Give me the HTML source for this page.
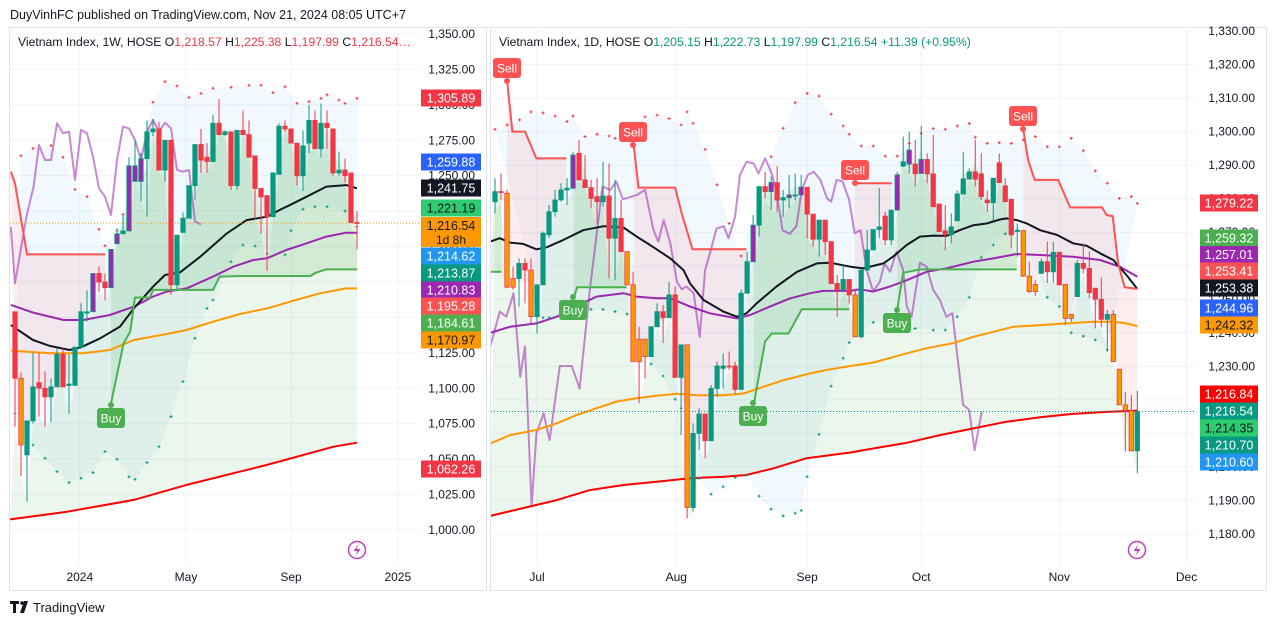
<!DOCTYPE html>
<html><head><meta charset="utf-8"><title>Vietnam Index chart</title>
<style>
html,body{margin:0;padding:0;background:#fff;}
svg{display:block;font-family:"Liberation Sans",Arial,sans-serif;}
</style></head>
<body>
<svg id="chart" width="1276" height="626" viewBox="0 0 1276 626" xmlns="http://www.w3.org/2000/svg">
<defs>
<clipPath id="clipL"><rect x="10" y="27" width="409" height="538"/></clipPath>
<clipPath id="clipR"><rect x="491" y="27" width="704" height="538"/></clipPath>
</defs>
<rect x="0" y="0" width="1276" height="626" fill="#fff"/>
<text x="10" y="19" font-size="12.5" fill="#131722">DuyVinhFC published on TradingView.com, Nov 21, 2024 08:05 UTC+7</text>
<rect x="9.5" y="27.5" width="477" height="563" fill="none" stroke="#e0e3eb"/>
<rect x="490.5" y="27.5" width="776" height="563" fill="none" stroke="#e0e3eb"/>
<g id="layer"></g>
<text x="18" y="46" font-size="12.2" fill="#131722">Vietnam Index, 1W, HOSE  O<tspan fill="#f23645">1,218.57</tspan>  H<tspan fill="#f23645">1,225.38</tspan>  L<tspan fill="#f23645">1,197.99</tspan>  C<tspan fill="#f23645">1,216.54…</tspan></text>
<text x="499" y="46" font-size="12.2" fill="#131722">Vietnam Index, 1D, HOSE  O<tspan fill="#089981">1,205.15</tspan>  H<tspan fill="#089981">1,222.73</tspan>  L<tspan fill="#089981">1,197.99</tspan>  C<tspan fill="#089981">1,216.54</tspan>  <tspan fill="#089981">+11.39 (+0.95%)</tspan></text>
<g>
<path d="M10 601 h9 v3 h-3 v9 h-3 v-9 h-3 z" fill="#131722"/>
<circle cx="22" cy="603" r="1.8" fill="#131722"/>
<path d="M24 601 h4 l-4 12 h-4 z" fill="#131722"/>
<text x="33" y="612" font-size="13" fill="#131722">TradingView</text>
</g>
</svg>
<script>
// ---------- LEFT (weekly) DATA ----------
const lOpen=[1154,1107,1053,1077,1104,1100,1094,1101,1124,1102,1102,1129,1153,1154,1181,1175,1171,1202,1209,1211,1246,1246,1262,1281,1283,1254,1275,1173,1210,1220,1243,1272,1263,1260,1287,1279,1281,1243,1282,1279,1264,1241,1236,1221,1251,1285,1283,1273,1250,1273,1289,1269,1287,1283,1252,1254,1252,1217];
const lHigh=[1154,1111,1077,1125,1125,1112,1107,1128,1128,1124,1129,1160,1169,1181,1186,1181,1198,1213,1223,1263,1275,1266,1289,1290,1288,1275,1275,1208,1224,1243,1272,1283,1273,1293,1304,1282,1281,1282,1296,1289,1264,1241,1236,1252,1287,1289,1283,1273,1282,1300,1296,1301,1296,1283,1267,1262,1252,1225];
const lLow=[1073,1038,1020,1075,1080,1073,1076,1101,1101,1082,1102,1129,1147,1154,1168,1162,1171,1202,1209,1211,1246,1232,1221,1278,1254,1246,1166,1169,1210,1220,1233,1252,1252,1260,1279,1278,1240,1240,1279,1263,1219,1209,1183,1221,1251,1281,1273,1243,1239,1266,1269,1263,1269,1250,1250,1245,1217,1198];
const lClose=[1107,1060,1077,1101,1100,1094,1101,1124,1101,1103,1129,1154,1154,1181,1175,1171,1198,1209,1211,1257,1257,1262,1281,1283,1254,1275,1173,1208,1220,1243,1272,1261,1260,1287,1279,1281,1243,1282,1279,1263,1241,1235,1221,1252,1285,1283,1273,1250,1271,1289,1269,1287,1284,1252,1254,1250,1217,1216.54];
const lVolUp=[13,16,17,19,20,21];
const lVolDown=[1,57];
const lBlackI=[-0.7,3.0,5.8,9.1,11.0,14.2,17.5,19.8,23.0,25.0,27.5,30.9,35.3,38.6,42.0,44.1,46.4,48.6,51.9,55.2,57.0];
const lBlackV=[1144.6,1134.1,1129.9,1127.0,1128.9,1135.3,1143.5,1156.4,1171.7,1179.9,1181.8,1192.9,1209.3,1218.7,1221.1,1225.8,1230.5,1235.2,1242.3,1243.4,1241.1];
const lPurpI=[-0.7,3.0,8.1,11.4,15.8,19.8,23.0,25.3,28.6,33.0,36.4,39.7,42.0,45.2,48.6,51.9,55.2,57.0];
const lPurpV=[1158.8,1153.4,1148.2,1148.2,1151.7,1157.6,1164.7,1168.2,1170.5,1178.8,1185.8,1190.5,1191.7,1197.6,1202.3,1207.0,1209.8,1209.8];
const lOrI=[-0.7,5.8,11.4,15.8,19.8,25.3,28.6,33.0,37.5,42.0,46.4,50.8,55.2,57.0];
const lOrV=[1126.6,1124.7,1124.7,1127.0,1134.1,1138.3,1141.1,1147.0,1152.4,1156.4,1161.8,1167.0,1170.5,1170.5];
const lRedI=[-0.8,8.7,19.8,28.6,42.0,53.1,57.0];
const lRedV=[1007.5,1012.9,1021.2,1031.8,1045.9,1058.8,1061.6];
const lGStepI=[16.0,18.1,19.2,20.0,22.5,23.0,33.0,34.1,37.5,49.2,50.2,51.9,57.0];
const lGStepV=[1089.4,1131.7,1140.0,1164.0,1164.0,1169.4,1169.4,1178.8,1179.2,1179.2,1181.6,1183.9,1183.9];
const lRStepI=[-0.7,0,2.0,15.0];
const lRStepV=[1252.9,1244.6,1194.5,1194.5];
const lOscI=[-0.7,0,1.9,3.1,4,5,6,7,8,9,10,11,12,13,14,15,16,17,18,19,20,21,22,23,24,25,26,27,28,29,30,31];
const lOscV=[1214.0,1174.1,1221.1,1242.3,1271.7,1261.1,1261.1,1287.0,1279.9,1281.1,1247.0,1282.3,1279.9,1263.4,1241.1,1235.2,1222.3,1261.1,1284.6,1283.4,1275.2,1261.1,1281.1,1289.3,1281.1,1287.4,1283.4,1254.0,1252.9,1254.0,1217.6,1215.7];
const lUpI=[1,3,6,8,10,12,14,15,17,18,23,25,27,29,31,33,36,39,41,43,45,47,49,51,52,54,55,57];
const lUpV=[1264.1,1269.3,1271.2,1263.0,1240.4,1235.2,1212.2,1200.6,1211.2,1222.7,1301.8,1316.4,1313.3,1305.3,1308.1,1311.7,1312.4,1313.8,1313.8,1308.6,1312.8,1301.1,1302.3,1304.6,1307.0,1303.4,1301.1,1304.6];
const lLoI=[0,3,5,7,9,11,13,15,17,19,20,22,24,26,28,30,32,33,36,38,40,42,45,46,48,50,52,55,57];
const lLoV=[1082.3,1060.0,1050.6,1041.2,1033.4,1036.5,1040.5,1055.3,1049.9,1037.6,1035.8,1047.5,1058.8,1080.0,1104.7,1135.3,1156.4,1162.3,1189.3,1201.1,1200.4,1194.8,1194.1,1211.2,1226.3,1228.1,1228.1,1225.1,1214.0];
const lTicks=[1350,1325,1300,1275,1250,1225,1200,1175,1150,1125,1100,1075,1050,1025,1000];
const lTimeLabels=['2024','May','Sep','2025'];
const lTimeIdx=[10.8,28.5,46,63.8];

// ---------- RIGHT (daily) DATA ----------
const rOpen=[1279.1,1282.1,1281.6,1256.2,1256.2,1260.7,1258.7,1244.8,1254.3,1269.2,1276.1,1279.6,1282.6,1283.1,1293.5,1285.6,1283.3,1280.6,1279.1,1280.8,1268.2,1274.1,1264.2,1254.3,1238.1,1238.1,1232.9,1241.8,1246.3,1244.5,1251.3,1226.7,1236.4,1187.9,1210.0,1215.8,1207.8,1223.4,1229.4,1230.1,1230.1,1223.1,1251.8,1261.2,1272.1,1283.6,1282.1,1284.8,1279.6,1280.3,1280.9,1281.1,1283.4,1275.4,1267.9,1273.6,1267.2,1254.7,1252.8,1255.9,1251.3,1238.8,1258.7,1264.7,1270.8,1274.8,1267.7,1276.6,1289.7,1290.3,1290.3,1287.5,1291.7,1287.4,1278.4,1270.4,1269.2,1273.4,1281.4,1285.9,1288.0,1287.4,1279.6,1278.8,1290.7,1283.8,1279.8,1270.2,1270.5,1256.9,1254.4,1257.7,1261.2,1258.2,1264.0,1254.4,1245.5,1250.8,1260.7,1259.2,1253.3,1250.0,1244.0,1245.5,1229.1,1218.5,1216.8,1204.8];
const rHigh=[1286.1,1287.5,1282.6,1259.7,1262.2,1262.2,1262.2,1254.3,1270.2,1278.1,1282.6,1284.6,1286.1,1294.0,1297.5,1293.0,1285.6,1286.1,1291.0,1290.5,1285.6,1279.6,1264.2,1258.2,1241.8,1238.1,1241.8,1248.8,1248.3,1255.2,1253.8,1236.4,1236.4,1213.0,1217.5,1215.8,1224.4,1231.4,1233.9,1234.4,1231.4,1252.9,1264.2,1275.1,1283.6,1288.0,1286.6,1289.7,1282.6,1287.1,1287.5,1287.1,1283.4,1275.4,1273.6,1273.6,1267.2,1257.2,1260.2,1256.0,1252.8,1258.7,1270.6,1270.8,1283.1,1276.1,1276.6,1288.0,1298.5,1300.0,1297.5,1301.7,1293.5,1299.0,1278.4,1278.1,1275.6,1282.4,1294.0,1289.0,1297.5,1293.5,1282.4,1286.1,1293.5,1286.1,1279.8,1272.6,1270.5,1261.2,1255.7,1262.2,1267.2,1267.2,1264.2,1254.4,1245.5,1261.7,1266.7,1264.2,1253.3,1256.5,1246.8,1246.8,1229.1,1222.4,1221.4,1222.7];
const rLow=[1275.6,1279.6,1253.3,1252.8,1247.8,1248.8,1242.8,1239.8,1254.3,1268.2,1274.6,1279.1,1278.1,1283.1,1285.6,1283.3,1277.1,1272.6,1277.6,1256.2,1255.7,1264.2,1254.3,1231.4,1219.0,1226.4,1232.9,1241.8,1236.9,1244.5,1226.7,1209.5,1184.7,1186.7,1205.0,1202.6,1207.8,1220.9,1223.4,1229.0,1221.9,1223.1,1251.8,1261.2,1268.7,1280.1,1276.6,1276.1,1274.6,1277.1,1279.6,1280.9,1268.2,1265.7,1262.7,1263.2,1254.7,1244.8,1252.8,1248.8,1238.8,1238.3,1258.7,1264.7,1268.2,1266.2,1266.2,1276.6,1289.5,1287.5,1283.6,1287.4,1284.6,1277.6,1270.2,1264.5,1266.7,1273.4,1281.4,1285.6,1283.6,1279.6,1276.1,1273.6,1284.8,1279.1,1265.2,1262.7,1256.7,1251.8,1251.0,1257.7,1254.9,1254.9,1254.3,1242.3,1243.3,1250.8,1257.7,1250.3,1241.3,1241.8,1234.4,1231.4,1218.5,1204.6,1204.8,1198.1];
const rClose=[1282.1,1281.8,1253.6,1253.6,1260.7,1258.7,1244.8,1254.3,1269.7,1276.1,1279.6,1282.6,1283.1,1293.0,1285.6,1283.3,1280.1,1279.1,1280.8,1268.2,1274.1,1264.2,1254.3,1231.4,1231.4,1232.9,1241.8,1246.3,1244.5,1251.3,1226.7,1236.4,1187.9,1210.0,1215.8,1207.8,1223.4,1230.1,1230.1,1229.9,1223.1,1251.8,1261.2,1272.1,1283.6,1282.1,1284.8,1279.6,1280.3,1281.1,1281.1,1283.4,1275.4,1267.9,1273.6,1267.2,1254.7,1252.8,1255.9,1251.3,1238.8,1258.7,1264.7,1270.8,1271.6,1267.7,1276.6,1287.1,1291.0,1294.5,1287.4,1291.7,1287.4,1277.6,1270.2,1269.2,1271.6,1281.4,1285.9,1288.0,1285.8,1280.6,1278.8,1286.1,1284.8,1279.1,1269.2,1270.5,1256.9,1252.3,1252.3,1261.2,1258.2,1264.0,1254.3,1244.3,1244.3,1260.7,1259.2,1252.0,1250.0,1244.0,1245.5,1231.4,1218.5,1216.8,1204.8,1216.54];
const rVolUp=[13,43,46,49,51,67,69,71];
const rVolDown=[2,3,6,22,23,24,25,32,60,88,89,90,95,96,103,104,105,106];
const rBlackI=[-0.8,0.8,2.5,4.7,6.9,8.6,11.4,14.7,18.1,21.4,23.6,25.8,29.2,31.4,32.5,34.7,38.1,40.3,41.9,43.6,46.9,50.3,53.6,55.8,59.2,61.3,64.7,66.3,68.6,70.8,73.0,75.2,77.4,79.7,81.9,84.1,85.2,86.9,88.6,90.8,93.6,96.3,98.6,100.8,103.0,105.2,107];
const rBlackV=[1267.2,1268.2,1266.9,1266.5,1264.9,1265.5,1267.7,1270.6,1271.8,1271.4,1268.7,1266.2,1262.2,1258.7,1254.7,1249.8,1246.3,1244.8,1245.8,1248.8,1253.8,1258.2,1260.7,1260.9,1259.7,1259.2,1260.7,1262.7,1266.2,1268.7,1269.0,1268.9,1270.6,1272.1,1272.6,1273.8,1274.1,1273.6,1272.6,1270.6,1269.2,1266.7,1265.9,1263.7,1261.7,1257.2,1253.1];
const rPurpI=[-0.8,2.5,6.9,10.3,13.6,16.9,21.4,23.6,26.9,29.2,32.5,35.8,40.3,42.5,45.8,49.2,52.5,54.7,59.2,60.8,63.0,65.8,68.6,71.9,75.2,79.7,83.0,86.9,90.8,96.3,100.8,104.1,107];
const rPurpV=[1240.0,1241.8,1242.8,1244.8,1248.0,1250.8,1251.8,1250.8,1250.3,1250.3,1247.8,1245.8,1244.3,1245.3,1247.8,1250.3,1251.8,1252.5,1252.5,1253.0,1252.3,1253.8,1255.7,1258.2,1259.2,1261.2,1262.2,1263.5,1263.2,1262.7,1261.7,1259.7,1256.7];
const rOrI=[-0.8,2.5,6.9,10.3,13.6,16.9,20.3,23.6,26.9,30.3,33.6,38.1,41.4,44.7,48.1,52.5,55.8,59.2,63.0,68.6,71.9,76.3,79.7,83.0,86.3,90.8,95.2,99.7,103.0,105.2,107];
const rOrV=[1207.0,1209.5,1211.0,1213.0,1215.5,1217.5,1219.5,1220.5,1221.2,1221.8,1221.4,1221.4,1221.9,1223.9,1225.9,1227.9,1229.1,1230.1,1231.1,1233.9,1235.4,1236.9,1238.8,1240.3,1241.8,1242.3,1242.8,1243.3,1243.3,1242.8,1242.0];
const rRedI=[-0.8,5.8,10.3,15.8,21.4,26.9,32.5,38.1,41.9,46.4,51.9,59.2,63.0,68.6,74.1,79.7,85.2,90.8,96.3,101.9,107];
const rRedV=[1185.4,1188.2,1190.1,1193.1,1194.6,1195.6,1196.6,1197.1,1197.6,1199.6,1202.6,1204.3,1205.5,1207.2,1209.5,1211.5,1213.5,1214.8,1215.8,1216.4,1216.8];
const rGStepI=[-0.8,1.1,null,13.1,13.7,21.9,null,43.1,45.0,46.1,48.9,51.1,59.0,null,67,68,70.8,86.9];
const rGStepV=[1258.2,1258.2,null,1250.3,1253.6,1253.6,null,1218.5,1237.4,1239.8,1239.8,1247.0,1247.0,null,1246.8,1257.9,1258.9,1258.9];
const rRStepI=[2.0,2.9,5.0,6.9,11.9,null,23.1,23.9,30.0,31.1,32.9,41.9,null,59.9,66.1,null,88.0,88.8,89.9,93.8,95.8,101.1,101.9,102.9,103.8,104.9,107];
const rRStepV=[1315.4,1300.0,1300.0,1292.0,1292.0,null,1296.0,1283.3,1283.3,1275.6,1264.9,1264.9,null,1284.6,1284.6,null,1300.5,1291.5,1285.6,1285.6,1277.4,1277.4,1275.1,1274.8,1260.7,1253.6,1253.1];
const rOscI=[-0.8,0.8,1.9,3.1,4.2,5.0,6.1,6.9,8.1,9.1,10.8,12.8,14.1,15.8,17.9,19.2,20.2,21.3,23.6,25.0,26.4,27.2,28.1,29.2,30.3,31.1,31.9,33.1,34.1,35.0,35.8,36.9,38.1,38.9,40.0,40.8,41.9,43.1,43.9,45.0,46.0,46.9,47.9,49.1,50.2,51.1,52.1,53.1,54.2,55.3,56.0,56.9,57.9,59.0,59.9,60.9,61.9,63.0,64.1,64.9,65.8,66.9,68.0,68.6,69.4,70.8,71.9,73.0,74.1,75.2,76.2,76.9,78.0,79.0,79.9,81.1];
const rOscV=[1235.9,1246.3,1244.8,1251.8,1226.9,1235.9,1188.2,1210.0,1216.0,1208.0,1230.1,1230.1,1223.4,1252.8,1283.6,1282.6,1285.1,1279.8,1281.1,1282.6,1270.6,1267.2,1273.6,1266.7,1255.2,1253.0,1253.8,1251.8,1238.8,1258.7,1263.7,1271.1,1271.8,1268.2,1274.6,1287.1,1291.0,1290.5,1287.5,1292.0,1288.0,1282.1,1270.6,1269.5,1271.8,1282.6,1287.1,1288.0,1285.6,1280.1,1279.1,1285.6,1285.1,1279.6,1269.7,1270.6,1258.7,1252.3,1255.2,1260.7,1258.2,1264.2,1258.7,1247.8,1244.8,1260.9,1259.7,1252.8,1249.8,1244.8,1245.8,1234.9,1218.5,1217.0,1205.0,1216.5];
const rUpI=[0,2,4.1,6,8,10,12,13,15,17,19,20,25,27,29,31,32,33,35,37,39,41,46,48,50,52,54,56,58,59,61,63,65,67,69,71,73,75,77,79,80,82,84,86,88,90,92,94,96,98,100,102,104,106,107];
const rUpV=[1300.7,1302.0,1303.5,1305.9,1305.6,1304.6,1303.0,1304.6,1298.5,1299.2,1298.7,1298.0,1304.4,1304.9,1303.9,1302.0,1305.9,1302.5,1294.7,1284.1,1272.6,1262.9,1292.5,1301.0,1308.6,1311.4,1310.6,1305.2,1301.7,1299.2,1295.7,1295.7,1292.7,1292.7,1296.5,1299.5,1300.9,1300.7,1301.7,1302.4,1298.3,1296.5,1296.7,1296.5,1297.5,1298.5,1295.5,1295.5,1298.0,1294.3,1288.3,1284.6,1280.1,1280.6,1278.6];
const rLoI=[8,9,16,18,20,22,26,28,30,31,34,36,38,40,42,44,46,48,50,51,52,54,56,58,59,63,65,70,73,75,77,79,81,83,85,87,92,94,96,98,100,102];
const rLoV=[1244.5,1244.5,1247.0,1247.0,1246.3,1245.6,1230.7,1227.1,1220.2,1217.5,1196.6,1191.9,1194.1,1196.9,1197.6,1191.3,1187.4,1185.4,1186.2,1187.0,1197.1,1209.7,1224.1,1232.4,1237.1,1243.1,1243.1,1241.3,1240.8,1240.8,1244.8,1250.6,1262.5,1266.2,1269.5,1270.6,1250.6,1247.8,1240.0,1239.0,1237.9,1234.9];
const rTicks=[1330,1320,1310,1300,1290,1280,1270,1260,1250,1240,1230,1220,1210,1200,1190,1180];
const rTimeLabels=['Jul','Aug','Sep','Oct','Nov','Dec'];
const rTimeIdx=[7,30.2,52,71,94,115.2];

// ---------- RENDERING ----------
const NS='http://www.w3.org/2000/svg';
const root=document.getElementById('layer');
function mk(parent,tag,attrs){const e=document.createElementNS(NS,tag);for(const k in attrs)e.setAttribute(k,attrs[k]);parent.appendChild(e);return e;}
function pstr(pts){return pts.map(p=>p[0].toFixed(1)+','+p[1].toFixed(1)).join(' ');}

function drawPanel(P){
  const X=i=>P.xa+i*P.xs, Y=p=>P.ya+(P.pTop-p)*P.ys;
  const n=P.O.length;
  const grid=mk(root,'g',{});
  
  
  P.ticks.forEach(t=>{mk(grid,'line',{x1:P.x0,x2:P.gridR,y1:Y(t),y2:Y(t),stroke:'#f0f3fa','stroke-width':1});});
  P.timeIdx.forEach(t=>{mk(grid,'line',{x1:X(t),x2:X(t),y1:27,y2:565,stroke:'#f0f3fa','stroke-width':1});});

  const g=mk(root,'g',{'clip-path':'url(#'+P.clip+')'});
  
  
  const interp=(arr,i)=>{const k=Math.max(0,Math.min(n-1,i));const a=Math.floor(k),b=Math.min(n-1,a+1),f=k-a;return arr(a)*(1-f)+arr(b)*f;};
  const hi=k=>P.H[k], lo=k=>P.L[k], hl2=k=>(P.H[k]+P.L[k])/2;
  const curve=(I,V)=>I.map((v,j)=>[X(v),Y(V[j])]);
  const segs=(I,V)=>{const out=[];let cur=[];I.forEach((v,j)=>{if(v===null){if(cur.length)out.push(cur);cur=[];}else cur.push([v,V[j]]);});if(cur.length)out.push(cur);return out;};
  const backFill=(fn,a,b)=>{const pts=[[X(b),Y(interp(fn,b))]];for(let k=Math.floor(b);k>=Math.ceil(a);k--)pts.push([X(k),Y(fn(k))]);pts.push([X(a),Y(interp(fn,a))]);return pts;};

  const env=curve(P.upI,P.upV).concat(curve(P.loI,P.loV).reverse());
  const ef=mk(g,'polygon',{points:pstr(env),fill:'rgba(33,150,243,0.06)'});
  
  
  const rI=P.redI, a0=Math.max(0,rI[0]), a1=Math.min(n-1,rI[rI.length-1]);
  const lg=curve(P.redI,P.redV).concat(backFill(lo,a0,a1));
  const lgf=mk(g,'polygon',{points:pstr(lg),fill:'rgba(76,175,80,0.11)'});
  
  
  segs(P.rsI,P.rsV).forEach(s=>{
    const a=Math.max(0,s[0][0]), b=Math.min(n-1,s[s.length-1][0]);
    const pts=s.map(p=>[X(p[0]),Y(p[1])]).concat(backFill(hl2,a,b));
    const f=mk(g,'polygon',{points:pstr(pts),fill:'rgba(242,54,69,0.09)'});
    
    
  });
  segs(P.gsI,P.gsV).forEach(s=>{
    const a=Math.max(0,s[0][0]), b=Math.min(n-1,s[s.length-1][0]);
    const pts=s.map(p=>[X(p[0]),Y(p[1])]).concat(backFill(hl2,a,b));
    const f=mk(g,'polygon',{points:pstr(pts),fill:'rgba(76,175,80,0.15)'});
    
    
  });
  const osc=mk(g,'polyline',{points:pstr(curve(P.oscI,P.oscV)),fill:'none',stroke:'rgba(156,39,176,0.55)','stroke-width':2,'stroke-linejoin':'round'});
  
  
  [[P.redI,P.redV,'#ff0000','long-ma'],[P.orI,P.orV,'#ff9800','ma-200'],[P.purpI,P.purpV,'#9c27b0','ma-100'],[P.blackI,P.blackV,'#131722','ma-50']].forEach(m=>{
    const l=mk(g,'polyline',{points:pstr(curve(m[0],m[1])),fill:'none',stroke:m[2],'stroke-width':2,'stroke-linejoin':'round'});
    
    
  });
  segs(P.gsI,P.gsV).forEach(s=>{
    const l=mk(g,'polyline',{points:pstr(s.map(p=>[X(p[0]),Y(p[1])])),fill:'none',stroke:'#4caf50','stroke-width':2});
    
    
  });
  segs(P.rsI,P.rsV).forEach(s=>{
    const l=mk(g,'polyline',{points:pstr(s.map(p=>[X(p[0]),Y(p[1])])),fill:'none',stroke:'#ff5252','stroke-width':2});
    
    
  });
  const plus=(i,p,c,nm)=>{const x=X(i),y=Y(p);const d=mk(g,'path',{d:`M${x-1.5} ${y}h3M${x} ${y-1.5}v3`,stroke:c,'stroke-width':1});
    
    };
  P.upI.forEach((v,j)=>plus(v,P.upV[j],'#f23645',P.name+'-upper-dot'));
  P.loI.forEach((v,j)=>plus(v,P.loV[j],'#089981',P.name+'-lower-dot'));
  const cp=mk(g,'line',{x1:P.x0,x2:P.x1,y1:Y(P.C[n-1]),y2:Y(P.C[n-1]),stroke:P.cpColor,'stroke-width':1,'stroke-dasharray':'1 2'});
  
  
  for(let i=0;i<n;i++){
    const up=P.C[i]>=P.O[i];
    const col=up?'#089981':'#f23645';
    const cg=mk(g,'g',{});
    
    
    mk(cg,'line',{x1:X(i),x2:X(i),y1:Y(P.H[i]),y2:Y(P.L[i]),stroke:col,'stroke-width':1});
    const top=Y(Math.max(P.O[i],P.C[i])), bot=Y(Math.min(P.O[i],P.C[i]));
    let fill=col, stroke=col;
    if(P.volDown.includes(i)){fill='#ff9800';stroke='#f23645';}
    if(P.volUp.includes(i)){fill='#9c27b0';stroke='#089981';}
    mk(cg,'rect',{x:X(i)-2.2,y:top,width:4.4,height:Math.max(1,bot-top),fill:fill,stroke:stroke,'stroke-width':0.8});
  }
  const ax=mk(root,'g',{'font-size':12,fill:'#131722'});
  
  
  P.ticks.forEach(t=>{const tx=mk(ax,'text',{x:P.axX,y:Y(t)+4,'text-anchor':'end'});tx.textContent=t.toLocaleString('en-US',{minimumFractionDigits:2});});
  const tx=mk(root,'g',{'font-size':12,fill:'#131722','text-anchor':'middle'});
  
  
  P.timeIdx.forEach((t,j)=>{const e=mk(tx,'text',{x:X(t),y:581});e.textContent=P.timeLabels[j];});
}

drawPanel({name:'weekly',clip:'clipL',x0:10,x1:420,gridR:419,xa:15,xs:6.0,ya:34,pTop:1350,ys:1.4171,axX:475,cpColor:'#ff9800',
  O:lOpen,H:lHigh,L:lLow,C:lClose,volUp:lVolUp,volDown:lVolDown,blackI:lBlackI,blackV:lBlackV,purpI:lPurpI,purpV:lPurpV,orI:lOrI,orV:lOrV,redI:lRedI,redV:lRedV,
  gsI:lGStepI,gsV:lGStepV,rsI:lRStepI,rsV:lRStepV,oscI:lOscI,oscV:lOscV,upI:lUpI,upV:lUpV,loI:lLoI,loV:lLoV,ticks:lTicks,timeIdx:lTimeIdx,timeLabels:lTimeLabels});
drawPanel({name:'daily',clip:'clipR',x0:491,x1:1195,gridR:1195,xa:495,xs:6.003,ya:31,pTop:1330,ys:3.3533,axX:1255,cpColor:'#089981',
  O:rOpen,H:rHigh,L:rLow,C:rClose,volUp:rVolUp,volDown:rVolDown,blackI:rBlackI,blackV:rBlackV,purpI:rPurpI,purpV:rPurpV,orI:rOrI,orV:rOrV,redI:rRedI,redV:rRedV,
  gsI:rGStepI,gsV:rGStepV,rsI:rRStepI,rsV:rRStepV,oscI:rOscI,oscV:rOscV,upI:rUpI,upV:rUpV,loI:rLoI,loV:rLoV,ticks:rTicks,timeIdx:rTimeIdx,timeLabels:rTimeLabels});

const sigs=[['Sell',-6,160,'#ff5252'],['Buy',111,418,'#4caf50'],['Sell',507,68,'#ff5252'],['Sell',633,132,'#ff5252'],['Sell',855,170,'#ff5252'],['Sell',1023,116,'#ff5252'],['Buy',573,310,'#4caf50'],['Buy',753,416,'#4caf50'],['Buy',897,323,'#4caf50']];
sigs.forEach(s=>{
  const sg=mk(root,'g',{});
  
  
  const dy=s[0]==='Buy'?-13:13;
  mk(sg,'circle',{cx:s[1],cy:s[2]+dy,r:3,fill:s[3]});
  mk(sg,'rect',{x:s[1]-14,y:s[2]-10,width:28,height:20,rx:3,fill:s[3]});
  const t=mk(sg,'text',{x:s[1],y:s[2]+4.5,'font-size':12,fill:'#fff','text-anchor':'middle'});
  t.textContent=s[0];
});
const cov=mk(root,'rect',{x:0,y:27,width:9,height:564,fill:'#fff'});



const lTags=[['1,305.89',98,'#f23645','#fff'],['1,259.88',162,'#2962ff','#fff'],['1,241.75',188,'#131722','#fff'],['1,221.19',208,'#2ecc71','#131722'],['1,214.62',256,'#2196f3','#fff'],['1,213.87',273,'#089981','#fff'],['1,210.83',290,'#9c27b0','#fff'],['1,195.28',306,'#ff5252','#fff'],['1,184.61',323,'#4caf50','#fff'],['1,170.97',340,'#ff9800','#131722'],['1,062.26',469,'#f23645','#fff']];
const rTags=[['1,279.22',203,'#f23645','#fff'],['1,259.32',238,'#4caf50','#fff'],['1,257.01',254.5,'#9c27b0','#fff'],['1,253.41',271,'#ff5252','#fff'],['1,253.38',288,'#131722','#fff'],['1,244.96',308,'#2962ff','#fff'],['1,242.32',325,'#ff9800','#131722'],['1,216.84',394,'#ff0000','#fff'],['1,216.54',411,'#089981','#fff'],['1,214.35',428,'#2ecc71','#131722'],['1,210.70',445,'#089981','#fff'],['1,210.60',462,'#2196f3','#fff']];
function tags(list,x,w,nm){list.forEach(t=>{
  const tg=mk(root,'g',{});
  
  
  mk(tg,'rect',{x:x,y:t[1]-8.5,width:w,height:17,fill:t[2]});
  const e=mk(tg,'text',{x:x+w/2,y:t[1]+4.5,'font-size':12.5,fill:t[3],'text-anchor':'middle'});
  e.textContent=t[0];
});}
tags(lTags,421,60,'weekly-price-tag');
tags(rTags,1200,58,'daily-price-tag');
const cpt=mk(root,'g',{});


mk(cpt,'rect',{x:421,y:217,width:60,height:30,fill:'#ff9800'});
const c1=mk(cpt,'text',{x:451,y:230,'font-size':12.5,fill:'#131722','text-anchor':'middle'});c1.textContent='1,216.54';
const c2=mk(cpt,'text',{x:436,y:244,'font-size':12,fill:'#131722','text-anchor':'start'});c2.textContent='1d 8h';

[[357,550],[1137,550]].forEach(p=>{
  const fg=mk(root,'g',{});
  
  
  mk(fg,'circle',{cx:p[0],cy:p[1],r:8.5,fill:'#fff',stroke:'#c13fc1','stroke-width':1.5});
  mk(fg,'path',{d:`M${p[0]+1.5} ${p[1]-6}l-5 7h4l-2 5 5-7h-4z`,fill:'#c13fc1'});
});
</script>
</body></html>
